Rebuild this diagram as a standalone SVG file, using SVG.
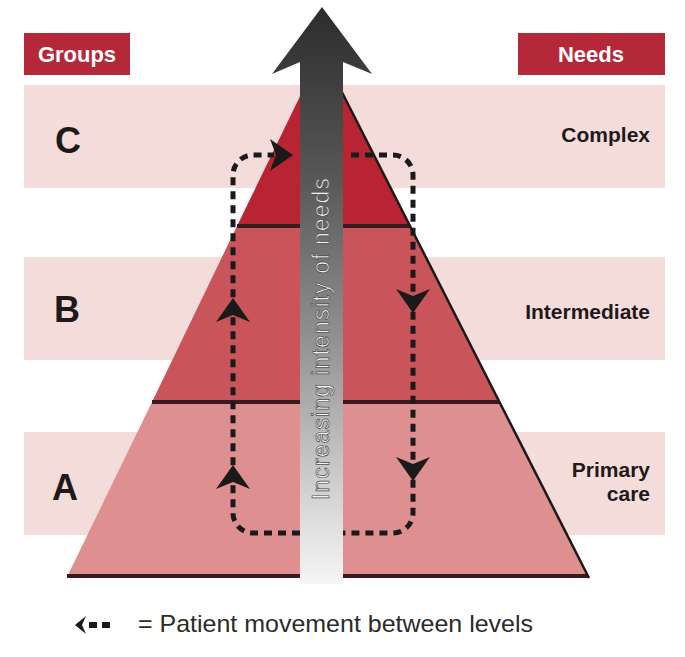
<svg xmlns="http://www.w3.org/2000/svg" width="685" height="657" viewBox="0 0 685 657">
<style>
.band{fill:#f4dcda}
.hdr{fill:#b5283a}
.hdrt{font-family:"Liberation Sans",Arial,sans-serif;font-weight:bold;font-size:22px;fill:#ffffff;text-anchor:middle}
.grp{font-family:"Liberation Sans",Arial,sans-serif;font-weight:bold;font-size:36px;fill:#1e1a1a}
.need{font-family:"Liberation Sans",Arial,sans-serif;font-weight:bold;font-size:21px;fill:#1e1a1a;text-anchor:end}
.sep{stroke:#3a1a1c;stroke-width:4;fill:none}
.dash{stroke:#1a1a1a;stroke-width:5;fill:none;stroke-dasharray:8 6}
.head{fill:#1a1a1a}
.legend{font-family:"Liberation Sans",Arial,sans-serif;font-size:24px;fill:#2a2a2a}
</style>
<defs>
<linearGradient id="arrowGrad" gradientUnits="userSpaceOnUse" x1="0" y1="7" x2="0" y2="585">
<stop offset="0" stop-color="#2c2c2c"/>
<stop offset="0.3" stop-color="#585858"/>
<stop offset="0.6" stop-color="#979797"/>
<stop offset="0.85" stop-color="#d4d4d4"/>
<stop offset="1" stop-color="#f6f6f6"/>
</linearGradient>
</defs>
<rect width="685" height="657" fill="#ffffff"/>

<g id="bands">
<rect class="band" x="24" y="85" width="641" height="103"/>
<rect class="band" x="24" y="257" width="641" height="103"/>
<rect class="band" x="24" y="432" width="641" height="103"/>
</g>

<g id="header-groups">
<rect class="hdr" x="24" y="33" width="106" height="42"/>
<text class="hdrt" x="77" y="62">Groups</text>
</g>
<g id="header-needs">
<rect class="hdr" x="518" y="33" width="147" height="42"/>
<text class="hdrt" x="591" y="62">Needs</text>
</g>

<g id="tier-a">
<polygon points="152,402 499,402 588,577 67,577" fill="#dd908f"/>
<line class="sep" x1="67" y1="576" x2="588" y2="576"/>
</g>
<g id="tier-b">
<polygon points="237,226 410,226 499,402 152,402" fill="#c9555a"/>
<line class="sep" x1="152" y1="402" x2="499" y2="402"/>
</g>
<g id="tier-c">
<polygon points="321.5,52 410,226 237,226" fill="#b92433"/>
<line class="sep" x1="237" y1="226" x2="410" y2="226"/>
</g>
<line x1="321.5" y1="52" x2="589" y2="578" stroke="#1a1a1a" stroke-width="2.5"/>

<g id="label-c">
<text class="grp" x="55" y="153">C</text>
<text class="need" x="650" y="142">Complex</text>
</g>
<g id="label-b">
<text class="grp" x="54" y="322">B</text>
<text class="need" x="650" y="319">Intermediate</text>
</g>
<g id="label-a">
<text class="grp" x="52" y="500">A</text>
<text class="need" x="650" y="477">Primary</text>
<text class="need" x="650" y="501">care</text>
</g>

<g id="connectors">
<path class="dash" d="M300,533 H253 A20,20 0 0 1 233,513 V175 A20,20 0 0 1 253,155 H274"/>
<path class="dash" d="M351,155 H393 A20,20 0 0 1 413,175 V513 A20,20 0 0 1 393,533 H343"/>
<polygon class="head" points="293,155 270,139 276,155 270,171"/>
<polygon class="head" points="233,298 216,322 233,315 250,322"/>
<polygon class="head" points="233,465 216,489 233,482 250,489"/>
<polygon class="head" points="413,313 396,289 413,296 430,289"/>
<polygon class="head" points="413,481 396,457 413,464 430,457"/>
</g>

<g id="intensity-arrow">
<path d="M322,7 L372,74 L343,62 L343,584 L300,584 L300,62 L272,74 Z" fill="url(#arrowGrad)"/>
<text transform="translate(329,500) rotate(-90)" x="0" y="0" font-family="'Liberation Sans',Arial,sans-serif" font-size="23" fill="#f2f2f2" stroke="#4a4a4a" stroke-width="0.7" textLength="322" lengthAdjust="spacing">Increasing intensity of needs</text>
</g>

<g id="legend">
<polygon class="head" points="75,625 86,616 82,625 86,634"/>
<rect class="head" x="89" y="622" width="8" height="6"/>
<rect class="head" x="102" y="622" width="8" height="6"/>
<text class="legend" x="138" y="632" textLength="395" lengthAdjust="spacingAndGlyphs">= Patient movement between levels</text>
</g>
</svg>
